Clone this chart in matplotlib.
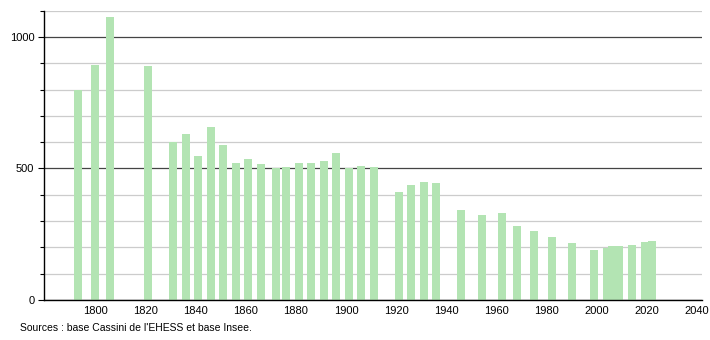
import matplotlib.pyplot as plt
from matplotlib.ticker import MultipleLocator

years = [1793, 1800, 1806, 1821, 1831, 1836, 1841, 1846, 1851, 1856,
         1861, 1866, 1872, 1876, 1881, 1886, 1891, 1896, 1901, 1906,
         1911, 1921, 1926, 1931, 1936, 1946, 1954, 1962, 1968, 1975,
         1982, 1990, 1999, 2004, 2006, 2009, 2014, 2019, 2022]
population = [798, 893, 1076, 890, 600, 631, 548, 658, 589, 521,
              537, 517, 502, 505, 520, 520, 528, 558, 502, 508,
              505, 412, 436, 448, 444, 342, 323, 332, 281, 262,
              240, 217, 191, 196, 205, 205, 209, 219, 225]
xticks = list(range(1800, 2041, 20))
source = "Sources : base Cassini de l'EHESS et base Insee."

plt.rcParams['font.family'] = ['Liberation Sans', 'DejaVu Sans']

fig = plt.figure(figsize=(7.1, 3.4), dpi=100)
ax = fig.add_axes([0.062, 0.1176, 0.927, 0.851])

ax.bar(years, population, width=3.2, color='#b3e4b3', zorder=2)

ax.set_xlim(1779.5, 2042)
ax.set_ylim(0, 1100)
ax.set_xticks(xticks)
ax.yaxis.set_major_locator(MultipleLocator(500))
ax.yaxis.set_minor_locator(MultipleLocator(100))
ax.grid(True, which='minor', axis='y', color='#cccccc', linewidth=0.9, zorder=0)
ax.grid(True, which='major', axis='y', color='#444444', linewidth=0.9, zorder=1)
ax.set_axisbelow(True)

for s in ['top', 'right']:
    ax.spines[s].set_visible(False)
ax.spines['left'].set_linewidth(1)
ax.spines['bottom'].set_linewidth(1)
ax.tick_params(axis='x', length=0, pad=4, labelsize=8)
ax.tick_params(axis='y', which='major', length=4, width=0.8, labelsize=8, pad=3)
ax.tick_params(axis='y', which='minor', length=3, width=0.8)

fig.text(0.028, 0.035, source, fontsize=7.5, ha='left', va='center')

fig.savefig('out.png', dpi=100)
